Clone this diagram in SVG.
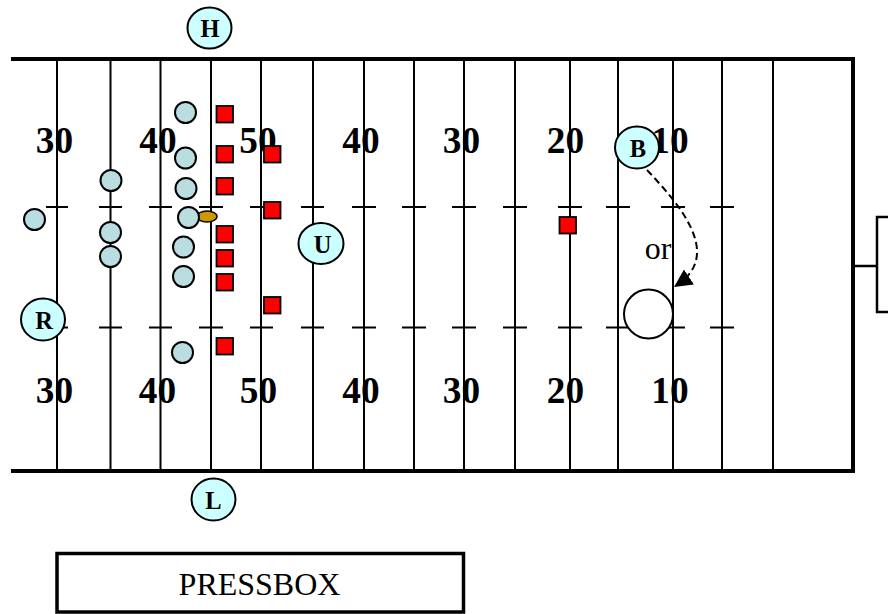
<svg xmlns="http://www.w3.org/2000/svg" width="888" height="614" viewBox="0 0 888 614">
<style>
.yl{stroke:#000;stroke-width:2;fill:none}
.hash{stroke:#000;stroke-width:2}
.border{stroke:#000;stroke-width:4;fill:none}
.num{font-family:"Liberation Serif","Times New Roman",serif;font-weight:bold;font-size:37.3px;text-anchor:middle;fill:#000}
.p{fill:#b9dde0;stroke:#000;stroke-width:2}
.d{fill:#ff0000;stroke:#000;stroke-width:1.8}
.off{fill:#ccffff;stroke:#000;stroke-width:2}
.lbl{font-family:"Liberation Serif","Times New Roman",serif;font-weight:bold;font-size:24.5px;text-anchor:middle;fill:#000}
.txt{font-family:"Liberation Serif","Times New Roman",serif;font-size:32px;text-anchor:middle;fill:#000}
</style>
<defs>
<marker id="ah" viewBox="0 0 10 10" refX="8" refY="5" markerWidth="9" markerHeight="9" markerUnits="strokeWidth" orient="auto">
<path d="M0,0 L10,5 L0,10 z" fill="#000"/>
</marker>
</defs>
<rect width="888" height="614" fill="#fff"/>
<g id="field">
<g id="yardlines">
<line class="yl" x1="57" y1="59" x2="57" y2="471"/>
<line class="yl" x1="110.5" y1="59" x2="110.5" y2="471"/>
<line class="yl" x1="160.5" y1="59" x2="160.5" y2="471"/>
<line class="yl" x1="211" y1="59" x2="211" y2="471"/>
<line class="yl" x1="261" y1="59" x2="261" y2="471"/>
<line class="yl" x1="313" y1="59" x2="313" y2="471"/>
<line class="yl" x1="364" y1="59" x2="364" y2="471"/>
<line class="yl" x1="414" y1="59" x2="414" y2="471"/>
<line class="yl" x1="464" y1="59" x2="464" y2="471"/>
<line class="yl" x1="515" y1="59" x2="515" y2="471"/>
<line class="yl" x1="570" y1="59" x2="570" y2="471"/>
<line class="yl" x1="618" y1="59" x2="618" y2="471"/>
<line class="yl" x1="673" y1="59" x2="673" y2="471"/>
<line class="yl" x1="722" y1="59" x2="722" y2="471"/>
<line class="yl" x1="773" y1="59" x2="773" y2="471"/>
</g>
<g id="hashmarks">
<path class="hash" d="M46,207h22M99,207h23M149,207h23M199,207h24M250,207h23M301,207h23M352,207h24M402,207h24M452,207h24M503,207h24M558,207h24M606,207h24M661,207h24M710,207h24"/>
<path class="hash" d="M46,327.5h22M99,327.5h23M149,327.5h23M199,327.5h24M250,327.5h23M301,327.5h23M352,327.5h24M402,327.5h24M452,327.5h24M503,327.5h24M558,327.5h24M606,327.5h24M661,327.5h24M710,327.5h24"/>
</g>
<path class="border" d="M11,59 H853 V471 H11"/>
<g id="numbers-top">
<text class="num" x="54.5" y="153">30</text>
<text class="num" x="158" y="153">40</text>
<text class="num" x="258" y="153">50</text>
<text class="num" x="361" y="153">40</text>
<text class="num" x="461.5" y="153">30</text>
<text class="num" x="565.5" y="153">20</text>
<text class="num" x="670" y="153">10</text>
</g>
<g id="numbers-bottom">
<text class="num" x="54.5" y="403">30</text>
<text class="num" x="157.5" y="403">40</text>
<text class="num" x="258.5" y="403">50</text>
<text class="num" x="361" y="403">40</text>
<text class="num" x="461.5" y="403">30</text>
<text class="num" x="565.5" y="403">20</text>
<text class="num" x="670" y="403">10</text>
</g>
</g>
<g id="goalpost">
<path d="M855,266 H877 M888,217 H877 V312 H888" fill="none" stroke="#000" stroke-width="2.5"/>
</g>
<g id="offense">
<circle class="p" cx="34.5" cy="219.5" r="10.5"/>
<circle class="p" cx="111" cy="180.5" r="10.5"/>
<circle class="p" cx="110.5" cy="232.5" r="10.5"/>
<circle class="p" cx="110.5" cy="256.5" r="10.5"/>
<circle class="p" cx="185.5" cy="112.5" r="10.5"/>
<circle class="p" cx="185.5" cy="158" r="10.5"/>
<circle class="p" cx="186" cy="188.5" r="10.5"/>
<circle class="p" cx="183.5" cy="247" r="10.5"/>
<circle class="p" cx="183.5" cy="276.5" r="10.5"/>
<circle class="p" cx="182.5" cy="352.5" r="10.5"/>
<ellipse id="football" cx="207" cy="216.5" rx="10" ry="5.5" fill="#cc9900" stroke="#000" stroke-width="1.5"/>
<circle class="p" cx="188.5" cy="217.5" r="10.5"/>
</g>
<g id="defense">
<rect class="d" x="216.5" y="106" width="16.5" height="16.5"/>
<rect class="d" x="216.5" y="146" width="16.5" height="16.5"/>
<rect class="d" x="216.5" y="178" width="16.5" height="16.5"/>
<rect class="d" x="216.5" y="226" width="16.5" height="16.5"/>
<rect class="d" x="216.5" y="250" width="16.5" height="16.5"/>
<rect class="d" x="216.5" y="274" width="16.5" height="16.5"/>
<rect class="d" x="216.5" y="338" width="16.5" height="16.5"/>
<rect class="d" x="264" y="146" width="16.5" height="16.5"/>
<rect class="d" x="264" y="202" width="16.5" height="16.5"/>
<rect class="d" x="264" y="297" width="16.5" height="16.5"/>
<rect class="d" x="559.5" y="217" width="16.5" height="16.5"/>
</g>
<g id="H"><ellipse class="off" cx="209.5" cy="28" rx="22" ry="20.5"/><text class="lbl" x="210" y="37">H</text></g>
<g id="L"><ellipse class="off" cx="213.5" cy="499.5" rx="22" ry="21"/><text class="lbl" x="213.5" y="508.5">L</text></g>
<g id="R"><ellipse class="off" cx="43" cy="319.5" rx="22" ry="21"/><text class="lbl" x="44" y="328.5">R</text></g>
<g id="U"><ellipse class="off" cx="321" cy="243.5" rx="22.5" ry="20.5"/><text class="lbl" x="322.5" y="253">U</text></g>
<g id="B"><ellipse class="off" cx="637" cy="147.5" rx="22" ry="21"/><text class="lbl" x="638" y="156.5">B</text></g>
<g id="target"><circle cx="648.5" cy="314" r="24.5" fill="#fff" stroke="#000" stroke-width="2"/></g>
<g id="connectors">
<path d="M647,170 C682,207 722,255 677,285" fill="none" stroke="#000" stroke-width="2" stroke-dasharray="7,4" marker-end="url(#ah)"/>
</g>
<g id="or-label"><text class="txt" x="658" y="259">or</text></g>
<g id="pressbox">
<rect x="57" y="553.5" width="406.5" height="58.5" fill="#fff" stroke="#000" stroke-width="3.5"/>
<text class="txt" x="259.5" y="595">PRESSBOX</text>
</g>
</svg>
